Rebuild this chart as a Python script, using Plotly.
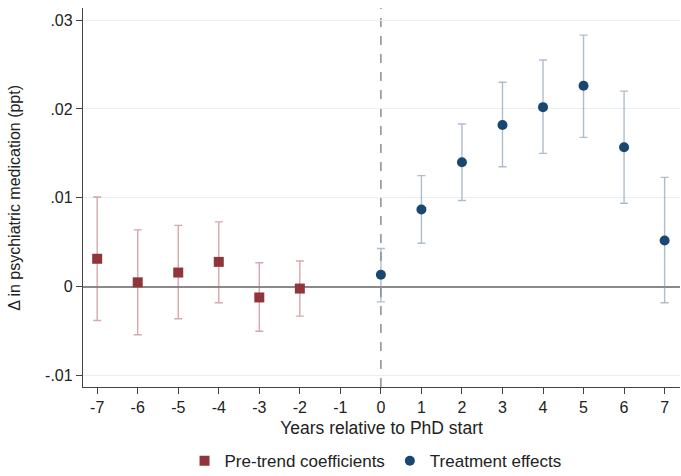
import plotly.graph_objects as go

# Event-study coefficients with 95% confidence bounds
pre_years = [-7, -6, -5, -4, -3, -2]
pre_coef = [0.00315, 0.0005, 0.0016, 0.0028, -0.0012, -0.0002]
pre_upper = [0.0101, 0.0064, 0.0069, 0.0073, 0.0027, 0.0029]
pre_lower = [-0.0038, -0.0054, -0.0036, -0.0018, -0.0050, -0.0033]

post_years = [0, 1, 2, 3, 4, 5, 6, 7]
post_coef = [0.00135, 0.0087, 0.0140, 0.0182, 0.0202, 0.0226, 0.0157, 0.0052]
post_upper = [0.0043, 0.0125, 0.0183, 0.0230, 0.0255, 0.0283, 0.0220, 0.0123]
post_lower = [-0.0017, 0.0049, 0.0097, 0.0135, 0.0150, 0.0168, 0.0094, -0.0018]

x_ticks = list(range(-7, 8))
y_ticks = [-0.01, 0, 0.01, 0.02, 0.03]
y_tick_text = ["-.01", "0", ".01", ".02", ".03"]

RED = "#90353b"
NAVY = "#1a476f"
FONT = "Liberation Sans, Arial, sans-serif"


def err(coef, upper, lower):
    return dict(
        type="data",
        symmetric=False,
        array=[u - c for u, c in zip(upper, coef)],
        arrayminus=[c - l for c, l in zip(coef, lower)],
    )


fig = go.Figure()

fig.add_trace(go.Scatter(
    x=pre_years, y=pre_coef, mode="markers", name="Pre-trend coefficients",
    marker=dict(symbol="square", size=10, color=RED),
    error_y=dict(**err(pre_coef, pre_upper, pre_lower),
                 color="rgba(176,96,104,0.55)", thickness=1.4, width=4),
))

fig.add_trace(go.Scatter(
    x=post_years, y=post_coef, mode="markers", name="Treatment effects",
    marker=dict(symbol="circle", size=10, color=NAVY),
    error_y=dict(**err(post_coef, post_upper, post_lower),
                 color="rgba(120,145,172,0.6)", thickness=1.4, width=4),
))

# dashed reference line at PhD start
fig.add_shape(type="line", x0=0, x1=0, y0=0, y1=1, xref="x", yref="paper",
              line=dict(color="#8c8c8c", width=1.5, dash="dash"), layer="below")

# vertical axis title placed as an annotation in the left margin
fig.add_annotation(text="Δ in psychiatric medication (ppt)", textangle=-90,
                   xref="paper", yref="paper", x=-0.115, y=0.5,
                   xanchor="center", yanchor="middle", showarrow=False,
                   font=dict(size=16, family=FONT, color="#222"))

fig.update_layout(
    width=681, height=476,
    margin=dict(l=83, r=1, t=8, b=89, autoexpand=False),
    paper_bgcolor="white", plot_bgcolor="white",
    font=dict(family=FONT, size=15, color="#222"),
    showlegend=True,
    legend=dict(orientation="h", x=0.49, xanchor="center", y=-0.196,
                yanchor="middle", font=dict(size=17, family=FONT, color="#222"),
                itemwidth=30, traceorder="normal"),
    xaxis=dict(
        range=[-7.35, 7.38], tickvals=x_ticks, ticktext=[str(v) for v in x_ticks],
        showgrid=False, zeroline=False, showline=True, linecolor="#444",
        linewidth=1.3, ticks="outside", ticklen=6, tickcolor="#444",
        tickfont=dict(size=16), title=dict(text="Years relative to PhD start",
                                           font=dict(size=17.5), standoff=6),
    ),
    yaxis=dict(
        range=[-0.01127, 0.03135], tickvals=y_ticks, ticktext=y_tick_text,
        showgrid=True, gridcolor="#e8f0f2", gridwidth=1.2,
        zeroline=True, zerolinecolor="#8a8a8a", zerolinewidth=1.5,
        showline=True, linecolor="#444", linewidth=1.3,
        ticks="outside", ticklen=6, tickcolor="#444", tickfont=dict(size=16),
    ),
)

fig.write_html("out.html")
